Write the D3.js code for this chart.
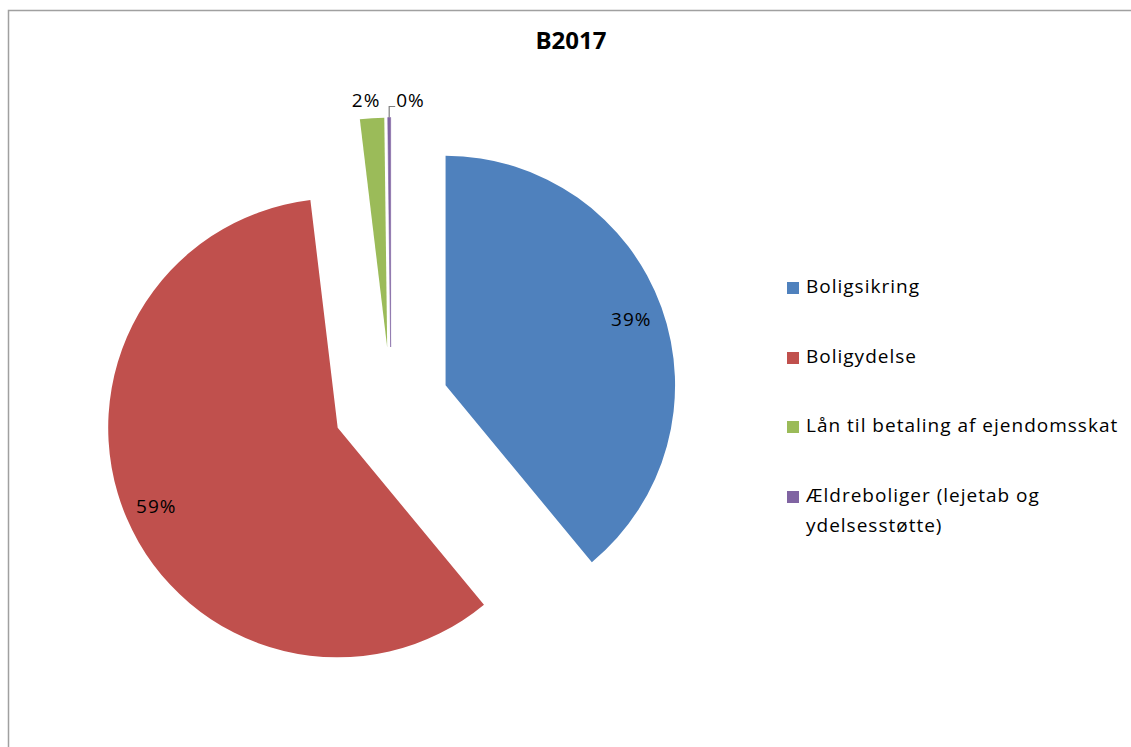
<!DOCTYPE html>
<html>
<head>
<meta charset="utf-8">
<script src="https://cdn.jsdelivr.net/npm/d3@7"></script>
<style>
  html, body { margin: 0; padding: 0; background: #fff; }
  svg { display: block; }
</style>
</head>
<body>
<svg id="chart" width="1131" height="747"></svg>
<script>
// ---- data ----
const title = "B2017";
const categories = [
  "Boligsikring",
  "Boligydelse",
  "Lån til betaling af ejendomsskat",
  "Ældreboliger (lejetab og ydelsesstøtte)"
];
const values = [39.0, 59.1, 1.7, 0.2];
const percentLabels = ["39%", "59%", "2%", "0%"];
const legendLines = [
  ["Boligsikring"],
  ["Boligydelse"],
  ["Lån til betaling af ejendomsskat"],
  ["Ældreboliger (lejetab og", "ydelsesstøtte)"]
];
const colors = ["#4F81BD", "#C0504D", "#9BBB59", "#8064A2"];

// ---- layout ----
const W = 1131, H = 747;
const cx = 391, cy = 405, R = 229.5, explode = 58;
const font = "'Open Sans', 'Noto Sans', sans-serif";
const fs = 19, ls = 1;

const svg = d3.select("#chart");

// border
svg.append("rect")
  .attr("x", 8.5).attr("y", 10.5)
  .attr("width", W + 10).attr("height", H + 10)
  .attr("fill", "none").attr("stroke", "#a0a0a0").attr("stroke-width", 1.5);

// title
svg.append("text")
  .attr("x", 571).attr("y", 49)
  .attr("text-anchor", "middle")
  .attr("font-family", font).attr("font-weight", "bold")
  .attr("font-size", 24).attr("fill", "#000")
  .text(title);

const pie = d3.pie().sort(null).startAngle(0).endAngle(2 * Math.PI);
const arcs = pie(values);
const arc = d3.arc().innerRadius(0).outerRadius(R);

const g = svg.append("g").attr("transform", `translate(${cx},${cy})`);

function dir(a) { return [Math.sin(a), -Math.cos(a)]; }

const slices = g.selectAll("g.slice").data(arcs).enter().append("g")
  .attr("class", "slice")
  .attr("transform", d => {
    const m = (d.startAngle + d.endAngle) / 2;
    const [dx, dy] = dir(m);
    return `translate(${dx * explode},${dy * explode})`;
  });

slices.append("path")
  .attr("d", arc)
  .attr("fill", (d, i) => colors[i])
  .attr("stroke", (d, i) => i === 3 ? colors[i] : "none")
  .attr("stroke-width", 0.6);

function label(sel, x, y, anchor, txt) {
  sel.append("text")
    .attr("x", x).attr("y", y)
    .attr("text-anchor", anchor)
    .attr("font-family", font).attr("font-size", fs)
    .attr("letter-spacing", ls).attr("fill", "#000")
    .text(txt);
}

// labels
slices.each(function (d, i) {
  const sel = d3.select(this);
  const m = (d.startAngle + d.endAngle) / 2;
  const [dx, dy] = dir(m);
  const ox = dx * R, oy = dy * R;
  if (i < 2) {
    label(sel, dx * R * 0.86, dy * R * 0.86 + 7, "middle", percentLabels[i]);
  } else if (i === 2) {
    label(sel, ox - 6, oy - 11, "middle", percentLabels[i]);
  } else {
    sel.append("path")
      .attr("d", `M${ox},${oy} L${ox},${oy - 11} L${ox + 6},${oy - 11}`)
      .attr("fill", "none").attr("stroke", "#7f7f7f").attr("stroke-width", 1.2);
    label(sel, ox + 7, oy - 11, "start", percentLabels[i]);
  }
});

// legend
const legendY = [293, 363, 432, 502];
const lg = svg.append("g");
categories.forEach((c, i) => {
  lg.append("rect")
    .attr("x", 787).attr("y", legendY[i] - 11)
    .attr("width", 12).attr("height", 12)
    .attr("fill", colors[i]);
  legendLines[i].forEach((line, j) => {
    lg.append("text")
      .attr("x", 806).attr("y", legendY[i] + j * 30)
      .attr("font-family", font).attr("font-size", fs)
      .attr("letter-spacing", ls).attr("fill", "#000")
      .text(line);
  });
});
</script>
</body>
</html>
